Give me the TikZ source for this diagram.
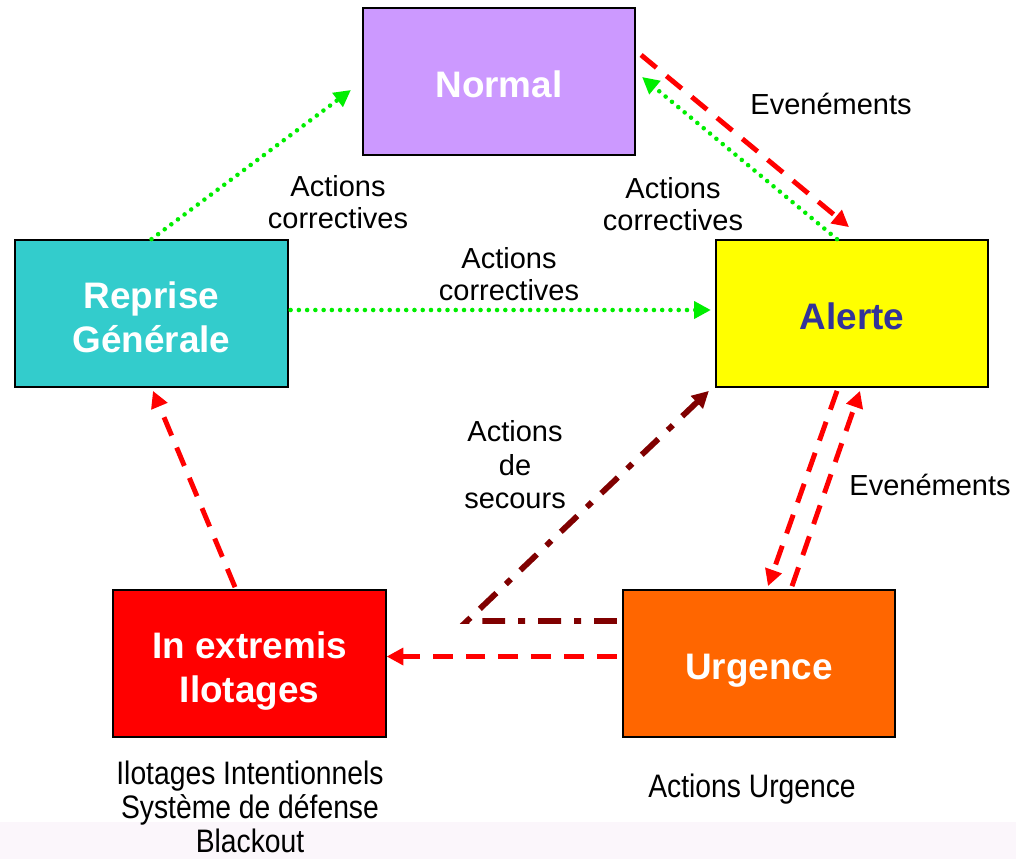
\documentclass[tikz,border=0pt]{standalone}
\usepackage{fontspec}
\setmainfont{Liberation Sans}
\newfontfamily\narrowf[FakeStretch=0.87]{Liberation Sans}
\usetikzlibrary{arrows.meta}
\definecolor{cnormal}{HTML}{CC99FF}
\definecolor{creprise}{HTML}{33CCCC}
\definecolor{calerte}{HTML}{FFFF00}
\definecolor{calertetxt}{HTML}{333399}
\definecolor{cextremis}{HTML}{FF0000}
\definecolor{curgence}{HTML}{FF6600}
\definecolor{cgreen}{HTML}{00EE00}
\definecolor{cred}{HTML}{FF0000}
\definecolor{cdark}{HTML}{800000}
\definecolor{cband}{HTML}{FBF6FB}
\tikzset{
  statebox/.style={draw=black, line width=1pt, minimum width=5.45cm, minimum height=2.94cm,
    align=center, text height=18.4pt, text depth=0pt, font=\fontsize{21}{25}\selectfont\bfseries, text=white},
  twoline/.style={text height=44.6pt, text depth=0pt},
  lbl/.style={align=center, font=\fontsize{16.5}{18.5}\selectfont},
  btxt/.style={align=center, font=\narrowf\fontsize{18.5}{19.3}\selectfont},
  tip/.style={-{Triangle[length=9.5pt,width=9.5pt]}},
  greendot/.style={tip, draw=cgreen, line width=2.6pt, line cap=round, dash pattern=on 0pt off 4.7pt},
  reddash/.style={tip, draw=cred, line width=2.8pt, dash pattern=on 11.3pt off 7.4pt},
  darkdash/.style={tip, draw=cdark, line width=3.3pt, dash pattern=on 13pt off 7.4pt on 4pt off 7.4pt},
}
\begin{document}
\begin{tikzpicture}[x=0.02cm, y=-0.02cm]
\useasboundingbox (0,0) rectangle (1016,859);
\fill[cband] (0,822) rectangle (1016,859);
% states
\node[statebox, fill=cnormal] (normal) at (499,81.5) {Normal};
\node[statebox, twoline, fill=creprise] (reprise) at (151.5,313.5) {Reprise\\Générale};
\node[statebox, fill=calerte, text=calertetxt] (alerte) at (852,313.5) {Alerte};
\node[statebox, twoline, fill=cextremis] (extremis) at (249.5,663.5) {In extremis\\Ilotages};
\node[statebox, fill=curgence] (urgence) at (759,663.5) {Urgence};
% labels
\node[lbl] (l1) at (338,202) {Actions\\correctives};
\node[lbl] (l2) at (673,204) {Actions\\correctives};
\node[lbl] (l3) at (509,274) {Actions\\correctives};
\node[lbl] (l4) at (831,104) {Evenéments};
\node[lbl] (l5) at (930,485) {Evenéments};
\node[lbl, font=\fontsize{16.5}{19}\selectfont] (l6) at (515,465) {Actions\\de\\secours};
\node[btxt] (b1) at (250,807) {Ilotages Intentionnels\\Système de défense\\Blackout};
\node[btxt] (b2) at (752,789) {Actions Urgence};
% connectors
\draw[greendot] (reprise.north) -- ([shift={(-11,8.5)}]normal.west);
\draw[greendot] ([shift={(-15,0)}]alerte.north) -- ([shift={(6,-4.5)}]normal.east);
\draw[reddash] ([shift={(5,-26.5)}]normal.east) -- ([shift={(-3,-12)}]alerte.north);
\draw[greendot] ([shift={(2,-3.5)}]reprise.east) -- ([shift={(-4,-3.5)}]alerte.west);
\draw[reddash] ([shift={(-15,3)}]alerte.south) -- ([shift={(9,-3)}]urgence.north);
\draw[reddash] ([shift={(33,-3)}]urgence.north) -- ([shift={(8,3)}]alerte.south);
\draw[reddash] ([shift={(-5,-7)}]urgence.west) -- ([shift={(0,-7)}]extremis.east);
\coordinate (k) at (467,621);
\draw[darkdash] ([shift={(-5,-42.5)}]urgence.west) -- (k) -- ([shift={(-6,3)}]alerte.south west);
\draw[reddash] ([shift={(-14.5,-2)}]extremis.north) -- ([shift={(1.5,3)}]reprise.south);
\end{tikzpicture}
\end{document}
